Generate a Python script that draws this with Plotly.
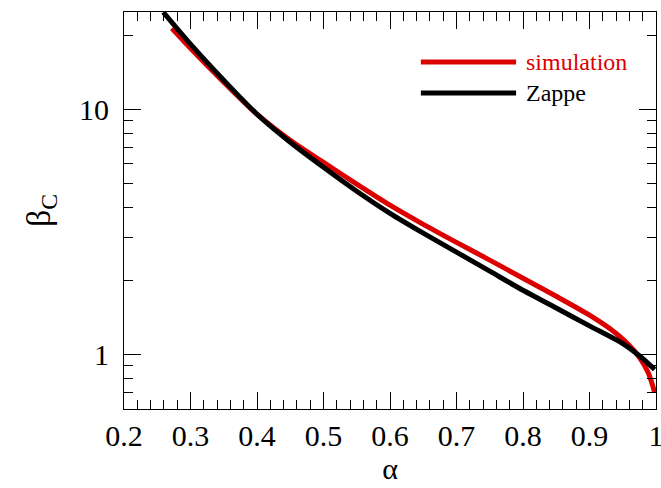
import plotly.graph_objects as go

# Zappe (black) curve
zappe_alpha = [0.259, 0.30, 0.35, 0.40, 0.45, 0.50, 0.55, 0.60, 0.65, 0.70, 0.75, 0.80, 0.85, 0.90, 0.95, 0.975, 0.998]
zappe_beta = [24.95, 18.48, 13.17, 9.57, 7.35, 5.81, 4.64, 3.77, 3.13, 2.62, 2.19, 1.83, 1.55, 1.31, 1.11, 0.99, 0.87]

# simulation (red) curve
sim_alpha = [0.272, 0.30, 0.35, 0.40, 0.45, 0.50, 0.55, 0.60, 0.65, 0.70, 0.75, 0.80, 0.85, 0.90, 0.93, 0.96, 0.975, 0.988, 0.998]
sim_beta = [21.47, 17.79, 12.93, 9.57, 7.49, 6.09, 4.96, 4.07, 3.40, 2.87, 2.43, 2.05, 1.73, 1.45, 1.28, 1.09, 0.975, 0.847, 0.702]

x_ticks = [0.2, 0.3, 0.4, 0.5, 0.6, 0.7, 0.8, 0.9, 1.0]
x_labels = ["0.2", "0.3", "0.4", "0.5", "0.6", "0.7", "0.8", "0.9", "1"]
y_ticks = [1, 10]
y_labels = ["1", "10"]

RED = "#dd0000"
FONT = "Liberation Serif"

fig = go.Figure()
fig.add_trace(go.Scatter(x=sim_alpha, y=sim_beta, mode="lines",
                         line=dict(color=RED, width=5, shape="spline", smoothing=0.8),
                         name="simulation", showlegend=False))
fig.add_trace(go.Scatter(x=zappe_alpha, y=zappe_beta, mode="lines",
                         line=dict(color="black", width=5, shape="spline", smoothing=0.8),
                         name="Zappe", showlegend=False))

# legend drawn manually
legend_items = [("simulation", RED, 0.874), ("Zappe", "black", 0.796)]
for label, color, yp in legend_items:
    fig.add_shape(type="line", xref="paper", yref="paper",
                  x0=0.558, x1=0.737, y0=yp, y1=yp,
                  line=dict(color=color, width=5))
    fig.add_annotation(xref="paper", yref="paper", x=0.752, y=yp,
                       text=label, showarrow=False, xanchor="left", yanchor="middle",
                       font=dict(family=FONT, size=24, color=color))

fig.update_layout(
    width=661, height=488,
    margin=dict(l=124, r=5, t=12, b=79),
    paper_bgcolor="white", plot_bgcolor="white",
    font=dict(family=FONT, size=30, color="black"),
    showlegend=False,
)
fig.update_xaxes(
    range=[0.2, 1.0], tickvals=x_ticks, ticktext=x_labels,
    ticks="inside", ticklen=17, tickwidth=1, tickcolor="black",
    showline=True, linecolor="black", linewidth=1, mirror="allticks",
    showgrid=False, zeroline=False, automargin=False,
    minor=dict(ticks="inside", ticklen=9, dtick=0.02, tickcolor="black", showgrid=False),
    title=dict(text="α", font=dict(family=FONT, size=30), standoff=6),
    tickfont=dict(family=FONT, size=30),
    ticklabeloverflow="allow",
)
fig.update_yaxes(
    type="log", range=[-0.2218, 1.3979], tickvals=y_ticks, ticktext=y_labels,
    ticks="inside", ticklen=17, tickwidth=1, tickcolor="black",
    showline=True, linecolor="black", linewidth=1, mirror="allticks",
    showgrid=False, zeroline=False, automargin=False,
    minor=dict(ticks="inside", ticklen=9, dtick="D1", tickcolor="black", showgrid=False),
    title=dict(text="β<sub>C</sub>", font=dict(family=FONT, size=34), standoff=18),
    tickfont=dict(family=FONT, size=30),
    ticklabelstandoff=8,
)

fig.write_html("out.html")
